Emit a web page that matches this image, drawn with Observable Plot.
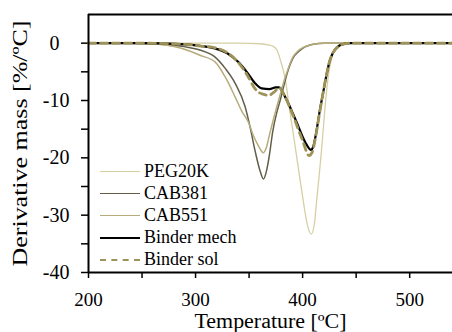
<!DOCTYPE html>
<html>
<head>
<meta charset="utf-8">
<script src="https://cdn.jsdelivr.net/npm/d3@7"></script>
<script src="https://cdn.jsdelivr.net/npm/@observablehq/plot@0.6"></script>
<style>
  html, body { margin: 0; padding: 0; background: #fff; }
  #wrap { position: relative; width: 452px; height: 332px; overflow: hidden; }
  #legend { position: absolute; left: 100px; top: 160px; font-family: "Liberation Serif", "Times New Roman", serif; font-size: 18px; color: #000; }
  .row { display: flex; align-items: center; height: 22.2px; white-space: nowrap; }
  .sw { width: 40px; height: 0; margin-right: 4px; }
</style>
</head>
<body>
<div id="wrap"><div id="legend"></div></div>
<script>
// ---- data ----
const seriesNames = ["PEG20K", "CAB381", "CAB551", "Binder mech", "Binder sol"];

const pegT = [200, 340, 360, 368, 373, 376, 379, 382, 384.5, 386.6, 391.3, 396, 400.6, 404, 408, 411, 413.1, 415.5, 417.5, 419.5, 421.5, 423.5, 426, 429, 433, 440, 540];
const pegV = [0, 0, -0.1, -0.3, -0.6, -1.2, -2.8, -4.8, -7, -10, -15.8, -21.8, -27.5, -31.3, -33.3, -31.5, -27.5, -23, -19, -14.5, -10, -6.5, -3.5, -1.5, -0.4, 0, 0];

const cab381T = [200, 240, 260, 280, 295, 304, 318, 327.7, 337, 346.3, 351, 355.6, 360.3, 363.4, 366, 369, 372, 376, 379, 382, 385.5, 391, 396, 400, 410, 420, 540];
const cab381V = [0, 0, -0.1, -0.4, -0.8, -1.2, -2.4, -4.4, -7, -11.1, -14.7, -18.8, -22.3, -23.7, -22.5, -19.5, -15.5, -12, -10, -7.8, -5.3, -2.6, -1.5, -0.9, -0.2, 0, 0];

const cab551T = [200, 250, 265, 280, 295, 304, 318.4, 327.7, 337, 343, 349.4, 354, 358.7, 363.4, 366, 369, 372.4, 376, 379, 382, 385.5, 391, 396, 400, 410, 420, 540];
const cab551V = [0, -0.05, -0.2, -0.6, -1.4, -2.1, -3.3, -5.9, -9.4, -11.8, -13.8, -16.1, -17.9, -19.1, -18.3, -16, -13.5, -11, -9, -7, -5, -2.4, -1.3, -0.8, -0.2, 0, 0];

const mechT = [200, 250, 290, 305, 318, 330, 340, 349, 355.6, 361.8, 369, 375, 378, 384, 391, 396, 400.4, 404, 407.8, 410, 412.5, 416, 419, 422, 425, 428, 432, 437, 445, 540];
const mechV = [0, 0, -0.2, -0.5, -0.9, -1.8, -3.3, -5.3, -7, -7.9, -8.0, -7.7, -7.7, -9.5, -12.3, -14.5, -16.5, -17.8, -18.6, -18, -15.8, -11.8, -8.8, -5.8, -3.3, -1.8, -0.8, -0.2, 0, 0];

const solT = [200, 250, 290, 305, 318, 330, 340, 349, 355, 358.4, 363, 368, 373, 378, 384, 391, 400, 406, 409, 412.5, 416, 419, 422, 425, 428, 432, 437, 445, 540];
const solV = [0, 0, -0.2, -0.5, -0.8, -1.7, -3.4, -5.8, -7.8, -8.5, -8.9, -9.1, -8.6, -7.8, -9.5, -12.6, -17, -19.6, -19, -16, -12, -8.8, -5.8, -3.3, -1.8, -0.8, -0.2, 0, 0];

const xDomain = [200, 540];
const yDomain = [-40, 5];
const xTicks = [200, 250, 300, 350, 400, 450, 500];
const xTickLabels = [200, 300, 400, 500];
const yTicks = [-40, -35, -30, -25, -20, -15, -10, -5, 0];
const yTickLabels = [-40, -30, -20, -10, 0];
const xTitle = "Temperature [ºC]";
const yTitle = "Derivative mass [%/ºC]";

// ---- styles ----
const styles = {
  "PEG20K":      {stroke: "#d6cfa4", strokeWidth: 1.3, dash: null},
  "CAB381":      {stroke: "#625e4a", strokeWidth: 1.5, dash: null},
  "CAB551":      {stroke: "#b6ab79", strokeWidth: 1.5, dash: null},
  "Binder mech": {stroke: "#000000", strokeWidth: 2.2, dash: null},
  "Binder sol":  {stroke: "#9d9257", strokeWidth: 2.8, dash: "7,5"}
};

const rows = (name, T, V) => T.map((t, i) => ({series: name, t, v: V[i]}));
const data = {
  "PEG20K": rows("PEG20K", pegT, pegV),
  "CAB381": rows("CAB381", cab381T, cab381V),
  "CAB551": rows("CAB551", cab551T, cab551V),
  "Binder mech": rows("Binder mech", mechT, mechV),
  "Binder sol": rows("Binder sol", solT, solV)
};

const lineMarks = seriesNames.map(n => Plot.line(data[n], {
  x: "t", y: "v", curve: "monotone-x",
  stroke: styles[n].stroke, strokeWidth: styles[n].strokeWidth,
  strokeDasharray: styles[n].dash || undefined
}));

const chart = Plot.plot({
  width: 452, height: 332,
  marginLeft: 88, marginRight: 0, marginTop: 14, marginBottom: 60,
  style: {fontFamily: "'Liberation Serif', 'Times New Roman', serif", fontSize: "20px", color: "#000", background: "transparent", overflow: "visible"},
  x: {domain: xDomain},
  y: {domain: yDomain},
  marks: [
    Plot.axisX({ticks: xTicks, tickFormat: d => xTickLabels.includes(d) ? String(d) : "", tickSize: 6, tickPadding: 14, strokeWidth: 1.5, fontSize: 19, label: null}),
    Plot.axisY({ticks: yTicks, tickFormat: d => yTickLabels.includes(d) ? (d === 0 ? "0\u2002" : String(d)) : "", tickSize: 7, tickPadding: 12, strokeWidth: 1.5, fontSize: 20, label: null}),
    ...lineMarks,
    Plot.ruleY([yDomain[1]], {stroke: "#000", strokeWidth: 2}),
    Plot.ruleY([yDomain[0]], {stroke: "#000", strokeWidth: 2}),
    Plot.ruleX([xDomain[0]], {stroke: "#000", strokeWidth: 2}),
    Plot.text([xTitle], {frameAnchor: "bottom", dy: 49, fontSize: 20, lineAnchor: "middle"}),
    Plot.text([yTitle], {frameAnchor: "left", dx: -69, dy: 123, rotate: -90, fontSize: 22, lineAnchor: "middle", textAnchor: "start"})
  ]
});
chart.style.position = "absolute";
chart.style.left = "0px";
chart.style.top = "0px";
const wrap = document.getElementById("wrap");
wrap.insertBefore(chart, wrap.firstChild);

// stretch titles to the reference's lengths
chart.querySelectorAll("text").forEach(t => {
  if (t.textContent === yTitle) { t.setAttribute("textLength", 246); t.setAttribute("lengthAdjust", "spacingAndGlyphs"); }
  if (t.textContent === xTitle) { t.setAttribute("textLength", 152); t.setAttribute("lengthAdjust", "spacingAndGlyphs"); }
});

// ---- legend ----
const legend = document.getElementById("legend");
seriesNames.forEach(n => {
  const r = document.createElement("div");
  r.className = "row";
  const sw = document.createElement("span");
  sw.className = "sw";
  const s = styles[n];
  sw.style.borderTop = `${Math.max(1.5, s.strokeWidth)}px ${s.dash ? "dashed" : "solid"} ${s.stroke}`;
  const tx = document.createElement("span");
  tx.textContent = n;
  r.appendChild(sw); r.appendChild(tx);
  legend.appendChild(r);
});
</script>
</body>
</html>
